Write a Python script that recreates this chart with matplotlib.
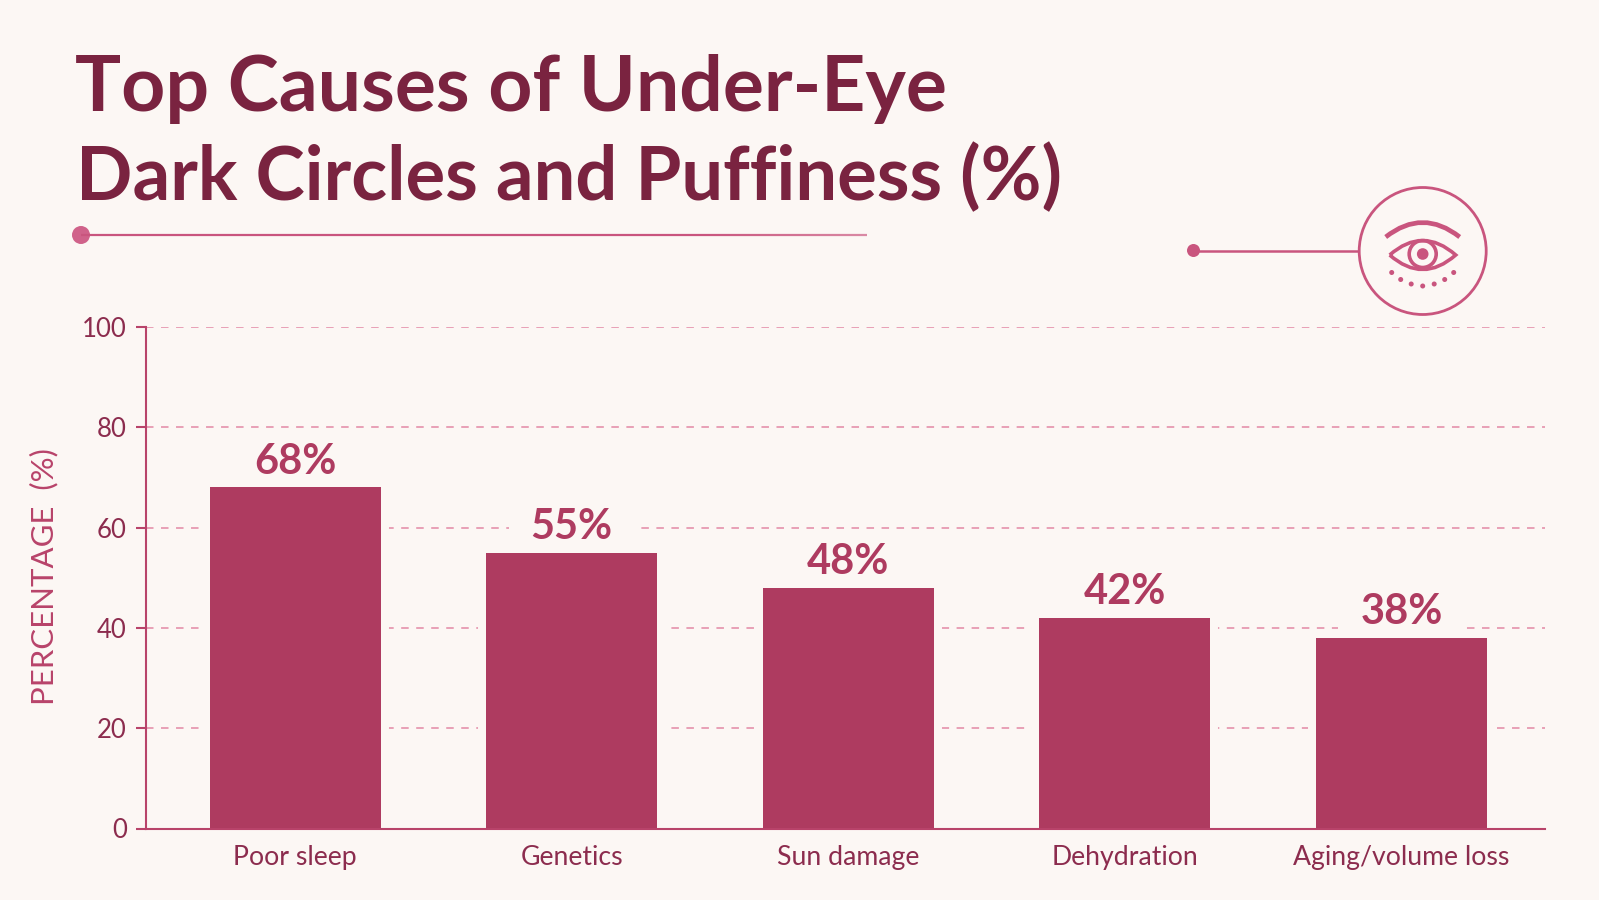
import matplotlib
matplotlib.use('Agg')
import matplotlib.pyplot as plt
from matplotlib.patches import Circle, PathPatch, Rectangle
from matplotlib.path import Path
import matplotlib.patheffects as pe

plt.rcParams['font.family'] = ['Lato', 'DejaVu Sans']

causes = ['Poor sleep', 'Genetics', 'Sun damage', 'Dehydration', 'Aging/volume loss']
percent = [68, 55, 48, 42, 38]
y_ticks = [0, 20, 40, 60, 80, 100]
title_lines = ['Top Causes of Under-Eye', 'Dark Circles and Puffiness (%)']

BG = '#fcf7f4'
TITLE = '#7a2340'
BAR = '#ae3b60'
TEXT = '#8c2c4e'
AXIS = '#b8436a'
GRID = '#e8a0b6'
ACCENT = '#c9557e'

W, H = 1599, 900
fig = plt.figure(figsize=(W / 100, H / 100), dpi=100, facecolor=BG)

# chart area, given in pixels from the top left
left, right, top, bottom = 145.5, 1545, 327, 828.5
ax = fig.add_axes([left / W, 1 - bottom / H, (right - left) / W, (bottom - top) / H])
ax.set_facecolor('none')

# bars get a background coloured halo so the grid stops short of them
bars = ax.bar(range(len(causes)), percent, width=0.618, color=BAR, zorder=3)
for b in bars:
    b.set_path_effects([pe.Stroke(linewidth=11.5, foreground=BG), pe.Normal()])

for i, p in enumerate(percent):
    # grid is also knocked out behind the value labels
    ax.add_patch(Rectangle((i - 0.228, p + 1.5), 0.456, 8.5, color=BG, lw=0, zorder=2))
    ax.text(i, p + 1.3, f'{p}%', ha='center', va='bottom', fontsize=30,
            fontweight='bold', color=BAR, zorder=4)

ax.set_xlim(-0.541, 4.519)
ax.set_ylim(0, 100)
ax.set_yticks(y_ticks)
ax.set_xticks(range(len(causes)))
ax.set_xticklabels(causes)
ax.tick_params(axis='y', length=7.5, width=1.5, color=AXIS, labelcolor=TEXT, labelsize=18.5, pad=6)
ax.tick_params(axis='x', length=0, labelcolor=TEXT, labelsize=19.2, pad=12)
ax.grid(axis='y', color=GRID, linewidth=1.4, linestyle=(0, (3.86, 3.86)), zorder=1)
ax.set_axisbelow(True)
for side in ['top', 'right']:
    ax.spines[side].set_visible(False)
for side in ['left', 'bottom']:
    ax.spines[side].set_color(AXIS)
    ax.spines[side].set_linewidth(1.5)
    ax.spines[side].set_zorder(5)

# overlay in pixel coordinates for the title, rules and eye icon
deco = fig.add_axes([0, 0, 1, 1], facecolor='none')
deco.set_xlim(0, W)
deco.set_ylim(H, 0)
deco.axis('off')

deco.text(75, 111, title_lines[0], fontsize=55.4, fontweight='bold', color=TITLE, va='baseline')
deco.text(76, 200, title_lines[1], fontsize=53.5, fontweight='bold', color=TITLE, va='baseline')
deco.text(44, 577, 'PERCENTAGE  (%)', fontsize=22.4, color=AXIS, rotation=90,
          ha='center', va='center')

# rule under the title, fading a little towards its end
deco.plot([81, 700], [235, 235], color=ACCENT, lw=1.6, solid_capstyle='butt')
for i in range(17):
    x0 = 700 + i * 10
    deco.plot([x0, min(x0 + 10, 867)], [235, 235], color=ACCENT, lw=1.6,
              alpha=1 - 0.02 * i, solid_capstyle='butt')
deco.add_patch(Circle((81, 235), 9, color='#d0628a', lw=0))

# eye icon with its connector
cx, cy = 1422.7, 251
deco.plot([1193, cx - 63.5], [250.5, 250.5], color=ACCENT, lw=1.8, solid_capstyle='butt')
deco.add_patch(Circle((1193.5, 250.5), 6.5, color=ACCENT, lw=0))
deco.add_patch(Circle((cx, cy), 63.5, fill=False, ec=ACCENT, lw=2))
brow = Path([(cx - 37, 237), (cx, 208), (cx + 37, 237)], [Path.MOVETO, Path.CURVE3, Path.CURVE3])
deco.add_patch(PathPatch(brow, fill=False, ec=ACCENT, lw=3.4))
eye = Path([(cx - 33, 255), (cx, 226), (cx + 33, 255), (cx, 284), (cx - 33, 255)],
           [Path.MOVETO, Path.CURVE3, Path.CURVE3, Path.CURVE3, Path.CURVE3])
deco.add_patch(PathPatch(eye, fill=False, ec=ACCENT, lw=2.6))
deco.add_patch(Circle((cx, 254), 13.5, fill=False, ec=ACCENT, lw=2.6))
deco.add_patch(Circle((cx, 254), 5.8, color=ACCENT, lw=0))
for dx, dy in [(-31, 272.5), (-22, 279.5), (-11.5, 284), (0, 286), (11.5, 284), (22, 279.5), (31, 272.5)]:
    deco.add_patch(Circle((cx + dx, dy), 2.5, color=ACCENT, lw=0))

fig.savefig('out.png', dpi=100, facecolor=BG)
